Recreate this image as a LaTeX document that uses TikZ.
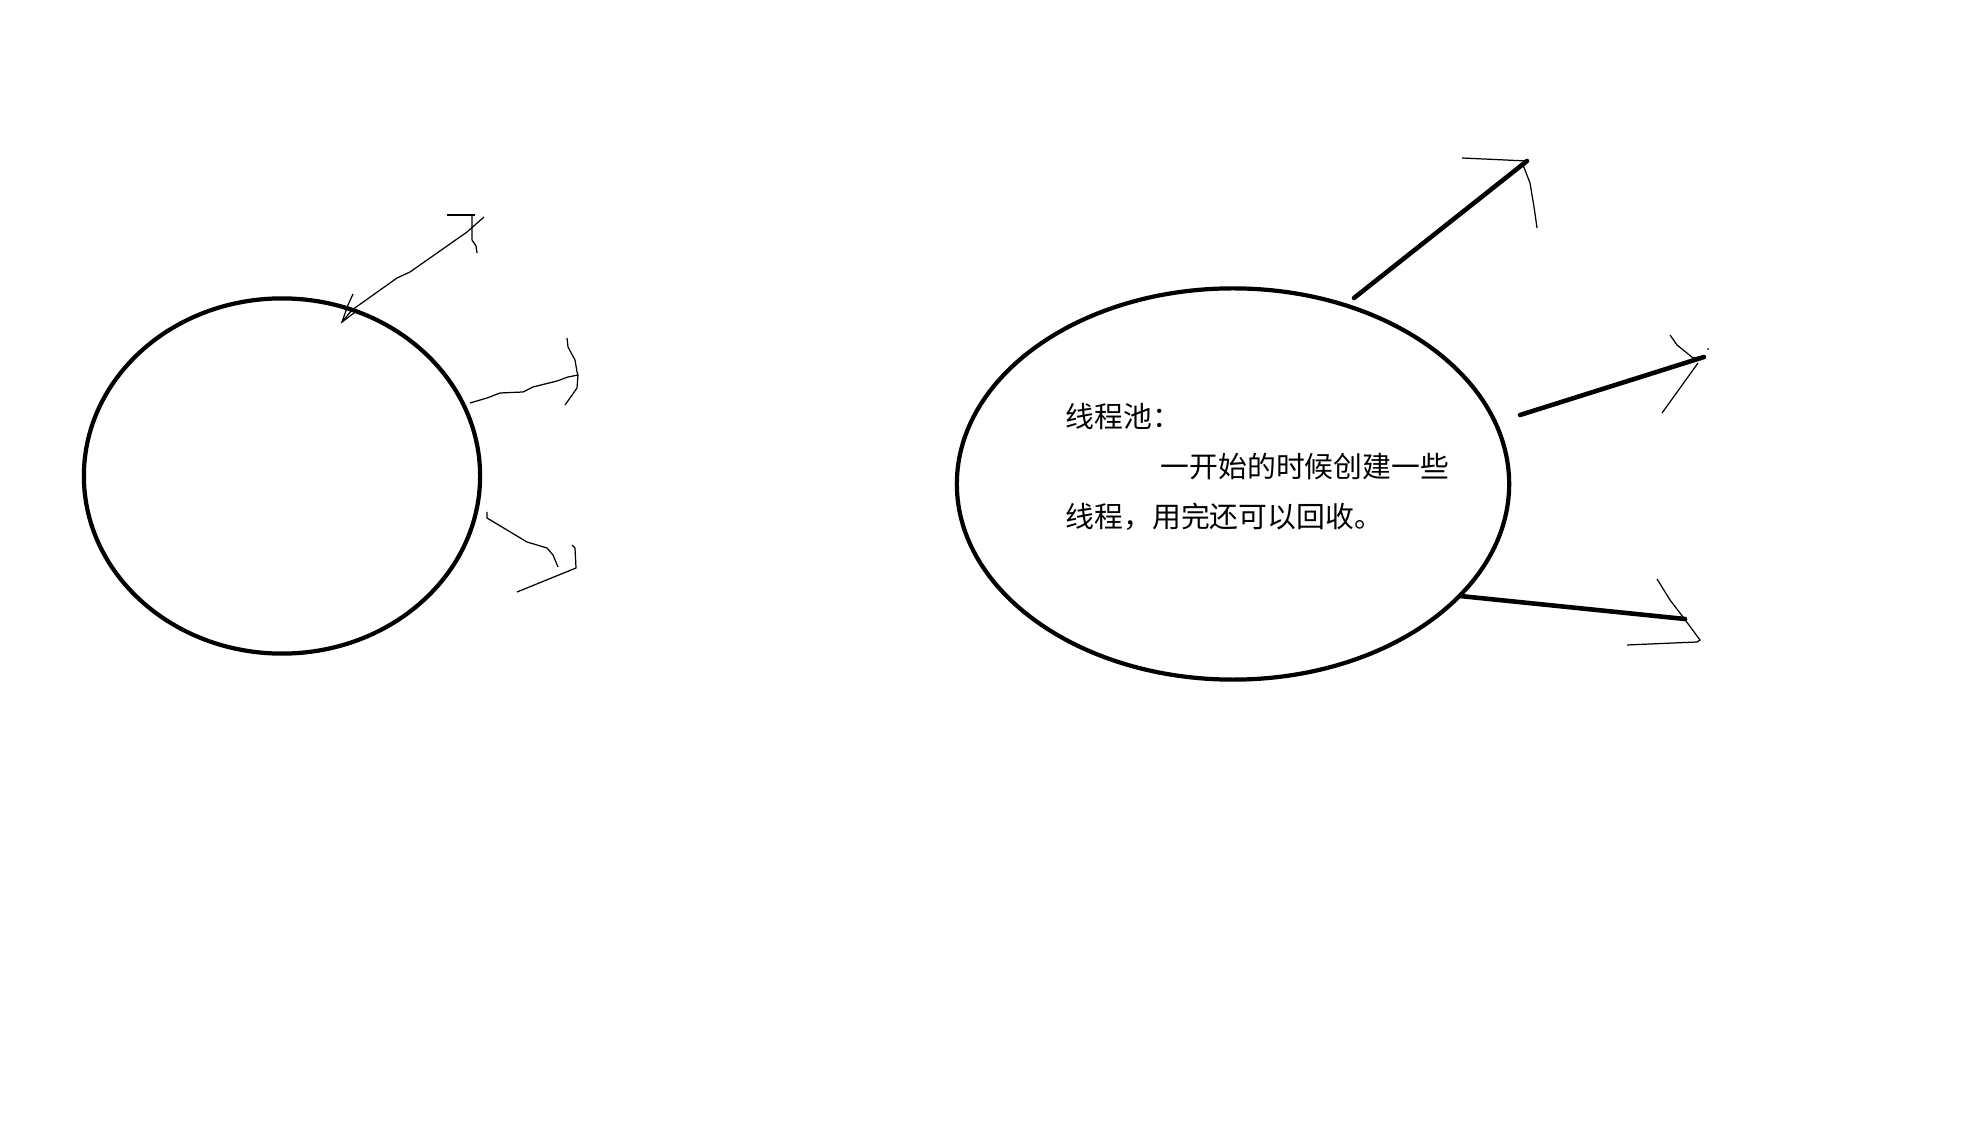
\documentclass[tikz,border=0pt]{standalone}
\usepackage{fontspec}
\usepackage{tikz}
\newfontfamily\cjk{Noto Sans CJK SC}
\usetikzlibrary{shapes.geometric}
\newcommand{\tip}[2]{\coordinate (#1) at (#2)}
\newcommand{\tnode}[3]{\node [words] (#1) at (#2) {#3}}

\begin{document}
\begin{tikzpicture}[x=0.01cm,y=-0.01cm,
  ring/.style={draw, ellipse, line width=1.2pt, inner sep=0pt},
  pen/.style={line width=0.35pt},
  stroke/.style={line width=1.3pt, line cap=round},
  words/.style={anchor=base west, inner sep=0pt, font=\cjk\fontsize{8.2pt}{14pt}\selectfont}]

\fill[white] (0,0) rectangle (1964,1125);
\useasboundingbox (0,0) rectangle (1964,1125);

\node [ring, minimum width=3.96cm, minimum height=3.55cm] (thread) at (282,476) {};
\node [ring, minimum width=5.52cm, minimum height=3.91cm] (pool) at (1233,484) {};

\tnode{L1}{1065,428}{线程池：};
\tnode{L2}{1160,478}{一开始的时候创建一些};
\tnode{L3}{1065,528}{线程，用完还可以回收。};

% left, drawn by hand
\tip{A1}{342,322};
\tip{B1}{484,217};
\draw[pen] (A1) -- (352,310) -- (397,278) -- (410,272) -- (467,232) -- (B1);
\draw[pen] (353,294) -- (348,305) -- (A1) -- (358,310);
\draw[pen] (447,215) -- (475,215);
\draw[pen] (472,216) -- (472,240) -- (476,246) -- (477,253);

\tip{A2}{470,403};
\tip{B2}{578,375};
\draw[pen] (A2) -- (487,398) -- (500,393) -- (523,392) -- (533,387) -- (557,381) -- (568,377) -- (B2);
\draw[pen] (567,338) -- (568,347) -- (575,360) -- (577,372) -- (B2) -- (577,388) -- (570,398) -- (565,405);

\tip{A3}{487,512};
\tip{B3}{558,567};
\draw[pen] (A3) -- (487,518) -- (527,542) -- (547,548) -- (553,555) -- (B3);
\draw[pen] (572,545) -- (575,548) -- (576,568) -- (517,592);

% right
\tip{C1}{1354,298};
\tip{D1}{1527,161};
\draw[stroke] (C1) -- (D1);
\draw[pen] (1462,158) -- (D1);
\draw[pen] (1523,165) -- (1530,183) -- (1534,207) -- (1537,228);

\tip{C2}{1520,415};
\tip{D2}{1704,357};
\draw[stroke] (C2) -- (D2);
\draw[pen] (1670,335) -- (1677,345) -- (1693,358) -- (1700,357);
\draw[pen] (1698,363) -- (1662,413);
\fill (1708,349) circle (1);

\tip{C3}{1460,596};
\tip{D3}{1685,619};
\draw[stroke] (C3) -- (D3);
\draw[pen] (1657,579) -- (1670,600) -- (1683,617) -- (1700,640) -- (1697,642) -- (1673,643) -- (1627,645);

\end{tikzpicture}
\end{document}
